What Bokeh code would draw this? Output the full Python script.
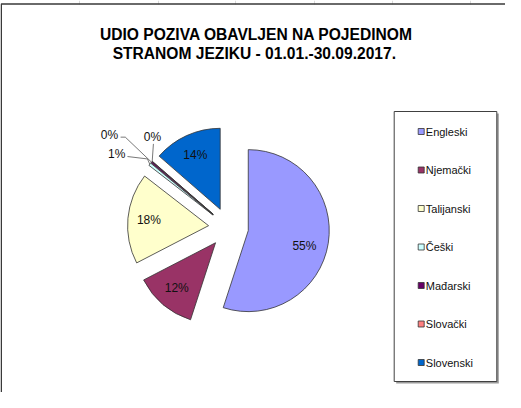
import math
from bokeh.plotting import figure
from bokeh.models import ColumnDataSource, Range1d
from bokeh.core.properties import value
from bokeh.embed import file_html
from bokeh.resources import INLINE

# ---------------- data ----------------
title_lines = ["UDIO POZIVA OBAVLJEN NA POJEDINOM", "STRANOM JEZIKU -  01.01.-30.09.2017."]
categories = ["Engleski", "Njemački", "Talijanski", "Češki", "Mađarski", "Slovački", "Slovenski"]
shares = [55.0, 12.4, 18.1, 0.55, 0.3, 0.05, 13.6]
colors = ["#9999FF", "#993366", "#FFFFCC", "#CCFFFF", "#660066", "#FF8080", "#0066CC"]

# ---------------- layout (pixels, origin bottom-left) ----------------
W, H = 505, 392
FONT = "Liberation Sans"
CX, CY = 228, 165
R = 81
EXPLODE = 20
INSIDE_FRAC = 0.74
OUTLINE = "#333333"
# per-label nudges (screen px, y down)
LABEL_NUDGE = {"Engleski": (-3, 6)}
# outside labels for tiny slices: label offset from slice tip, leader points (screen offsets, y down)
LEADERS = {
    "Češki": ((-33, -10), [(0, 0), (-2.3, -5.3), (-22.3, -7.7)]),
    "Mađarski": ((-42, -27), [(0, 0), (-26.2, -25), (-30.9, -25)]),
    "Slovački": ((0.2, -24), [(0, 0), (1.2, -17.4)]),
}
LEG_BOX = (393.7, 11, 496.3, 281)
LEG_TOP, LEG_STEP = 261, 38.5
LEG_MX, LEG_TX = 420.7, 425.3
SHEET_COLS = [79, 158, 235, 314, 392, 470]

p = figure(width=W, height=H, output_backend="svg", toolbar_location=None,
           x_range=Range1d(0, W), y_range=Range1d(0, H), min_border=0,
           background_fill_color="white", border_fill_color="white")
p.axis.visible = False
p.grid.visible = False
p.outline_line_color = None

# spreadsheet gridlines above the chart area
for gx in SHEET_COLS:
    p.line([gx, gx], [388, H], line_color="#dadada", line_width=1)

# chart area border
p.line([0.75, 0.75, W], [0, 388.5, 388.5], line_color="#3a3a3a", line_width=1.5)

# title
for i, t in enumerate(title_lines):
    p.text(x=[256], y=[358 - i * 19], text=[t], text_font=value(FONT), text_font_style="bold",
           text_font_size="15.6px", text_align="center", text_baseline="middle", text_color="#000000")

# pie
total = sum(shares)
xs, ys, a0s, a1s, mids = [], [], [], [], []
start = math.pi / 2
for v in shares:
    sweep = v / total * 2 * math.pi
    a0, a1 = start, start - sweep
    mid = (a0 + a1) / 2
    xs.append(CX + EXPLODE * math.cos(mid))
    ys.append(CY + EXPLODE * math.sin(mid))
    a0s.append(a0)
    a1s.append(a1)
    mids.append(mid)
    start = a1

src = ColumnDataSource(dict(x=xs, y=ys, s=a1s, e=a0s, color=colors, cat=categories))
p.wedge(x="x", y="y", radius=R, start_angle="s", end_angle="e", direction="anticlock",
        fill_color="color", line_color=OUTLINE, line_width=0.8, source=src)

lx, ly, lt = [], [], []
for cat, v, x0, y0, mid in zip(categories, shares, xs, ys, mids):
    pct = f"{round(v / total * 100)}%"
    if cat in LEADERS:
        tipx = x0 + R * math.cos(mid)
        tipy = y0 + R * math.sin(mid)
        (ldx, ldy), pts = LEADERS[cat]
        p.line([tipx + dx for dx, dy in pts], [tipy - dy for dx, dy in pts],
               line_color="#555555", line_width=0.8)
        lx.append(tipx + ldx)
        ly.append(tipy - ldy)
    else:
        ndx, ndy = LABEL_NUDGE.get(cat, (0, 0))
        lx.append(x0 + INSIDE_FRAC * R * math.cos(mid) + ndx)
        ly.append(y0 + INSIDE_FRAC * R * math.sin(mid) - ndy)
    lt.append(pct)
p.text(x=lx, y=ly, text=lt, text_font=value(FONT), text_font_size="12px",
       text_align="center", text_baseline="middle", text_color="#111111")

# legend
x0, y0, x1, y1 = LEG_BOX
p.quad(left=[x0 + 2], right=[x1 + 2], bottom=[y0 - 2], top=[y1 - 2], fill_color="#9a9a9a", line_color=None)
p.quad(left=[x0], right=[x1], bottom=[y0], top=[y1], fill_color="white", line_color="#404040", line_width=1)
legy = [LEG_TOP - i * LEG_STEP for i in range(len(categories))]
p.scatter(x=[LEG_MX] * len(categories), y=legy, marker="square", size=6, fill_color=colors,
          line_color="#333333", line_width=0.8)
p.text(x=[LEG_TX] * len(categories), y=legy, text=categories, text_font=value(FONT),
       text_font_size="11px", text_align="left", text_baseline="middle", text_color="#111111")

open("out.html", "w").write(file_html(p, INLINE))
